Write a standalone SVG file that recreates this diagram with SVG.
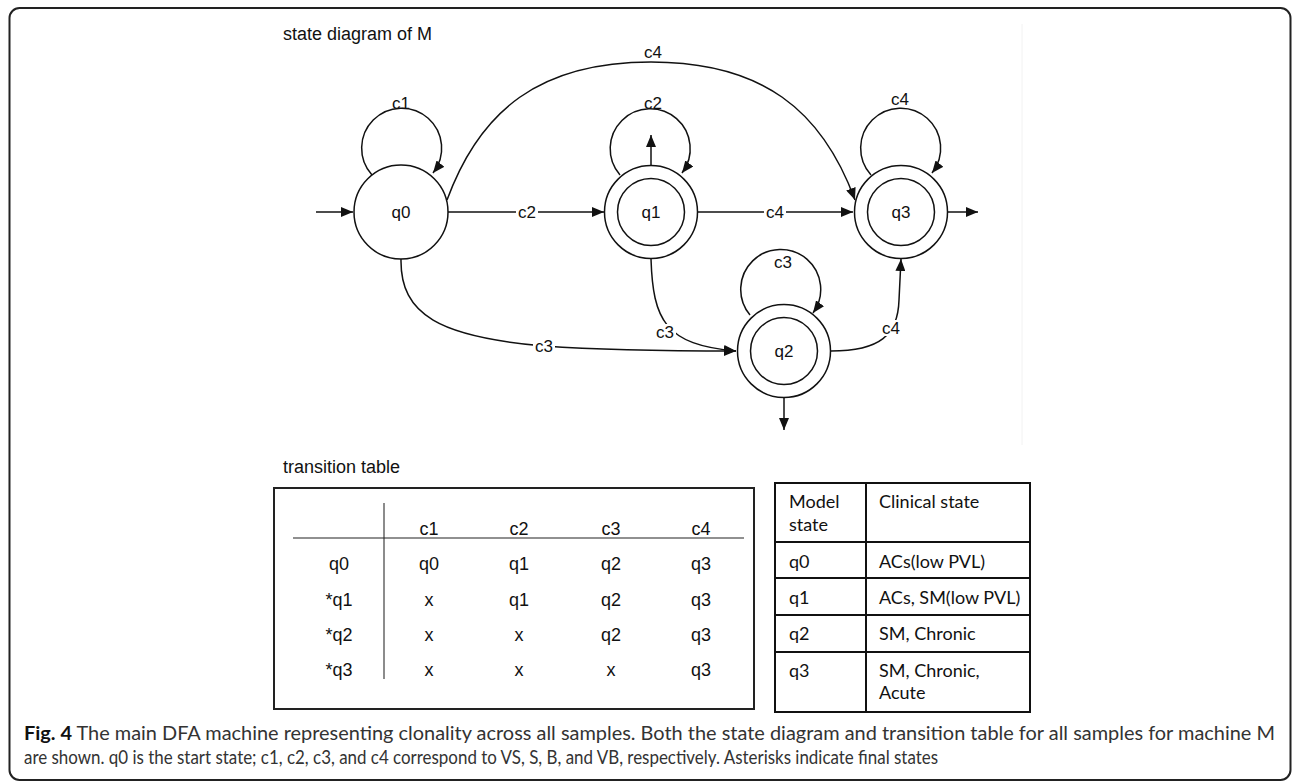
<svg xmlns="http://www.w3.org/2000/svg" width="1292" height="782" viewBox="0 0 1292 782">
<style>
.st{fill:#fff;stroke:#111;stroke-width:1.5}
.ln{fill:none;stroke:#111;stroke-width:1.5}
.lb{font-family:"Liberation Sans",Arial,sans-serif;font-size:17px;fill:#111;text-anchor:middle}
.hd{font-family:"Liberation Sans",Arial,sans-serif;font-size:18px;fill:#111}
.tt{font-family:"Liberation Sans",Arial,sans-serif;font-size:18px;fill:#111;text-anchor:middle}
.t2{font-family:Lato,"Open Sans",sans-serif;font-size:18px;fill:#111}
.cap{font-family:Lato,"Open Sans",sans-serif;font-size:18.5px;fill:#333}
.bg{fill:#fff}
</style>
<defs>
<marker id="ah" markerUnits="userSpaceOnUse" markerWidth="13" markerHeight="10" refX="12" refY="5" orient="auto">
<path d="M0,0 L12,5 L0,10 z" fill="#111"/>
</marker>
</defs>
<rect x="9.5" y="8" width="1281" height="772" rx="10" fill="#fff" stroke="#222" stroke-width="2"/>
<line x1="1022" y1="24" x2="1022" y2="445" stroke="#f2f2f2" stroke-width="1"/>
<text class="hd" x="283" y="40">state diagram of M</text>

<g id="connectors">
<line class="ln" x1="316" y1="212" x2="353" y2="212" marker-end="url(#ah)"/>
<path class="ln" d="M372,175 A40,40 0 1 1 433,173" marker-end="url(#ah)"/>
<path class="ln" d="M620,175 A40,40 0 1 1 682,173" marker-end="url(#ah)"/>
<path class="ln" d="M871,175 A40,40 0 1 1 932,173" marker-end="url(#ah)"/>
<path class="ln" d="M750,315 A40,40 0 1 1 813,313" marker-end="url(#ah)"/>
<line class="ln" x1="651" y1="165" x2="651" y2="135" marker-end="url(#ah)"/>
<path class="ln" d="M447,200 C480,110 540,62 651,62 C762,62 822,110 855,200" marker-end="url(#ah)"/>
<line class="ln" x1="448" y1="212" x2="604" y2="212" marker-end="url(#ah)"/>
<line class="ln" x1="697" y1="212" x2="853" y2="212" marker-end="url(#ah)"/>
<line class="ln" x1="948" y1="212" x2="978" y2="212" marker-end="url(#ah)"/>
<path class="ln" d="M401,259 C400,315 440,337 544,346 C600,350 680,351 736,351" marker-end="url(#ah)"/>
<path class="ln" d="M651,259 C653,320 665,345 736,351" marker-end="url(#ah)"/>
<path class="ln" d="M831,351 C880,351 898,335 899,300 L901,259" marker-end="url(#ah)"/>
<line class="ln" x1="784" y1="398" x2="784" y2="430" marker-end="url(#ah)"/>
<rect class="bg" x="516" y="204" width="22" height="16"/>
<rect class="bg" x="764" y="204" width="22" height="16"/>
<rect class="bg" x="533" y="338" width="22" height="16"/>
<rect class="bg" x="654" y="324" width="22" height="16"/>
<rect class="bg" x="880" y="320" width="22" height="16"/>
<text class="lb" x="401" y="109">c1</text>
<text class="lb" x="653" y="109">c2</text>
<text class="lb" x="900" y="105">c4</text>
<text class="lb" x="653" y="58">c4</text>
<text class="lb" x="527" y="218">c2</text>
<text class="lb" x="775" y="218">c4</text>
<text class="lb" x="544" y="352">c3</text>
<text class="lb" x="665" y="338">c3</text>
<text class="lb" x="891" y="334">c4</text>
<text class="lb" x="783" y="268">c3</text>
</g>

<g id="q0">
<circle class="st" cx="401" cy="212" r="47"/>
<text class="lb" x="401" y="218">q0</text>
</g>
<g id="q1">
<circle class="st" cx="651" cy="212" r="46.5"/>
<circle class="st" cx="651" cy="212" r="33.5"/>
<text class="lb" x="651" y="218">q1</text>
</g>
<g id="q3">
<circle class="st" cx="901" cy="212" r="46.5"/>
<circle class="st" cx="901" cy="212" r="33.5"/>
<text class="lb" x="901" y="218">q3</text>
</g>
<g id="q2">
<circle class="st" cx="784" cy="351" r="46.5"/>
<circle class="st" cx="784" cy="351" r="33.5"/>
<text class="lb" x="784" y="357">q2</text>
</g>

<text class="hd" x="283" y="473">transition table</text>
<g id="transition-table">
<rect x="274" y="488" width="480" height="221" fill="none" stroke="#222" stroke-width="2"/>
<line x1="384" y1="503" x2="384" y2="679" stroke="#666" stroke-width="1.5"/>
<line x1="293" y1="538" x2="744" y2="538" stroke="#222" stroke-width="1.2"/>
<text class="tt" x="429" y="535">c1</text>
<text class="tt" x="519" y="535">c2</text>
<text class="tt" x="611" y="535">c3</text>
<text class="tt" x="701" y="535">c4</text>
<text class="tt" x="339" y="570">q0</text><text class="tt" x="429" y="570">q0</text><text class="tt" x="519" y="570">q1</text><text class="tt" x="611" y="570">q2</text><text class="tt" x="701" y="570">q3</text>
<text class="tt" x="339" y="606">*q1</text><text class="tt" x="429" y="606">x</text><text class="tt" x="519" y="606">q1</text><text class="tt" x="611" y="606">q2</text><text class="tt" x="701" y="606">q3</text>
<text class="tt" x="339" y="641">*q2</text><text class="tt" x="429" y="641">x</text><text class="tt" x="519" y="641">x</text><text class="tt" x="611" y="641">q2</text><text class="tt" x="701" y="641">q3</text>
<text class="tt" x="339" y="676">*q3</text><text class="tt" x="429" y="676">x</text><text class="tt" x="519" y="676">x</text><text class="tt" x="611" y="676">x</text><text class="tt" x="701" y="676">q3</text>
</g>

<g id="state-table">
<rect x="775" y="483" width="255" height="229" fill="none" stroke="#111" stroke-width="2"/>
<line x1="866" y1="483" x2="866" y2="712" stroke="#111" stroke-width="2"/>
<line x1="775" y1="542" x2="1030" y2="542" stroke="#111" stroke-width="2"/>
<line x1="775" y1="578" x2="1030" y2="578" stroke="#111" stroke-width="2"/>
<line x1="775" y1="615" x2="1030" y2="615" stroke="#111" stroke-width="2"/>
<line x1="775" y1="652" x2="1030" y2="652" stroke="#111" stroke-width="2"/>
<text class="t2" x="789" y="508">Model</text>
<text class="t2" x="789" y="531">state</text>
<text class="t2" x="879" y="508">Clinical state</text>
<text class="t2" x="789" y="568">q0</text><text class="t2" x="879" y="568">ACs(low PVL)</text>
<text class="t2" x="789" y="604">q1</text><text class="t2" x="879" y="604">ACs, SM(low PVL)</text>
<text class="t2" x="789" y="640">q2</text><text class="t2" x="879" y="640">SM, Chronic</text>
<text class="t2" x="789" y="677">q3</text><text class="t2" x="879" y="677">SM, Chronic,</text>
<text class="t2" x="879" y="699">Acute</text>
</g>

<g id="caption">
<text class="cap" x="24" y="740" textLength="1251" lengthAdjust="spacingAndGlyphs"><tspan font-weight="bold" fill="#111">Fig. 4</tspan> The main DFA machine representing clonality across all samples. Both the state diagram and transition table for all samples for machine M</text>
<text class="cap" x="24" y="764" textLength="914" lengthAdjust="spacingAndGlyphs">are shown. q0 is the start state; c1, c2, c3, and c4 correspond to VS, S, B, and VB, respectively. Asterisks indicate final states</text>
</g>
</svg>
